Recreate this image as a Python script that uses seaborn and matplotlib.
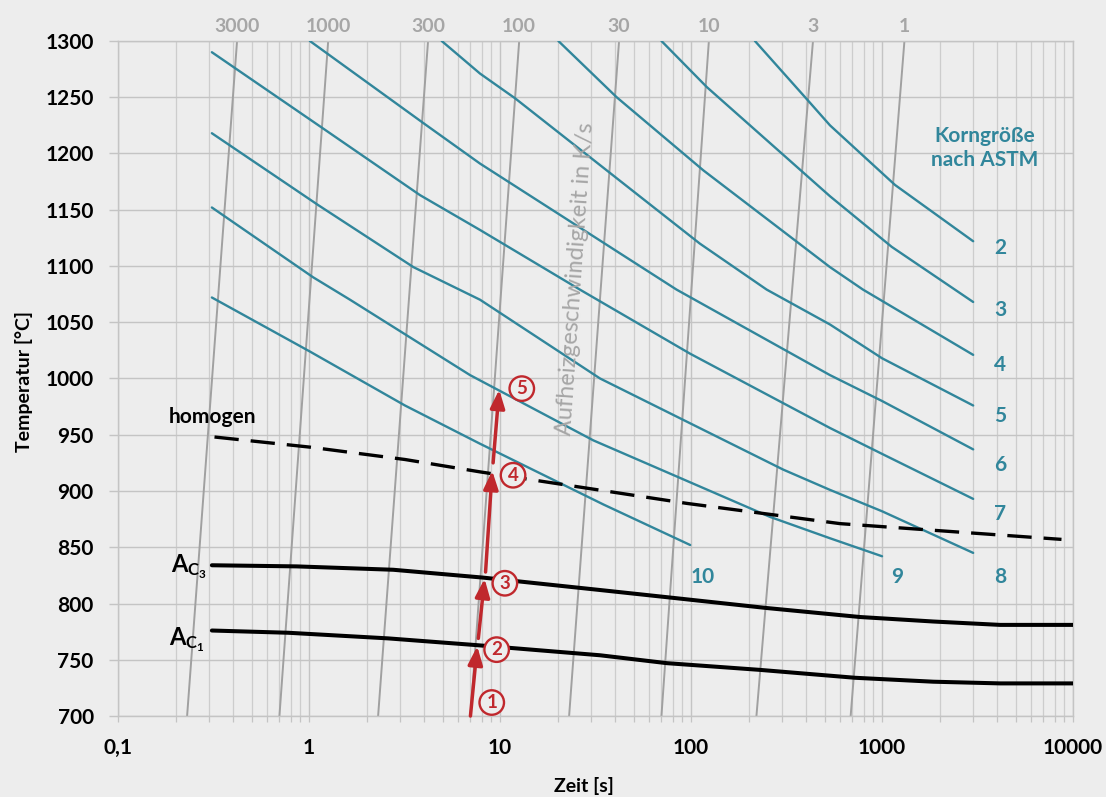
import numpy as np
import pandas as pd
import matplotlib
matplotlib.use("Agg")
import matplotlib.pyplot as plt
from matplotlib.ticker import FixedLocator, NullFormatter
import seaborn as sns

# ─── Data ────────────────────────────────────────────────────────
# heating rate lines in K/s: time [s] at 700 °C and at 1300 °C
rates = [3000, 1000, 300, 100, 30, 10, 3, 1]
rate_t_700 = [0.23, 0.70, 2.3, 7.0, 23, 70, 220, 685]
rate_t_1300 = [0.42, 1.26, 4.2, 12.6, 42, 124, 435, 1310]

# ASTM grain size curves
grain_sizes = [2, 3, 4, 5, 6, 7, 8, 9, 10]
g2_t = [216, 415, 534, 1170, 3000]
g2_T = [1300, 1246, 1225, 1172, 1122]
g3_t = [70, 121, 534, 1124, 3000]
g3_T = [1300, 1259, 1162, 1117, 1068]
g4_t = [20.2, 40.8, 116, 534, 795, 1000, 3000]
g4_T = [1300, 1250, 1185, 1099, 1079, 1069, 1021]
g5_t = [4.95, 7.86, 12, 111, 249, 534, 1000, 3000]
g5_T = [1300, 1271, 1249, 1120, 1079, 1048, 1018, 976]
g6_t = [1.01, 3.97, 7.86, 84, 534, 1000, 3000]
g6_T = [1300, 1227, 1191, 1079, 1003, 980, 937]
g7_t = [0.31, 1.19, 3.81, 7.86, 26.2, 99, 534, 1000, 3000]
g7_T = [1290, 1222, 1163, 1132, 1079, 1022, 956, 933, 893]
g8_t = [0.31, 1.12, 3.52, 7.86, 33.4, 304, 534, 1000, 3000]
g8_T = [1218, 1154, 1099, 1070, 1000, 919, 901, 882, 845]
g9_t = [0.31, 1.05, 1.64, 6.97, 30.8, 259, 534, 1000]
g9_T = [1152, 1090, 1070, 1003, 945, 877, 858, 842]
g10_t = [0.31, 1.01, 3.18, 7.86, 34.8, 99]
g10_T = [1072, 1024, 976, 942, 888, 852]

# transformation lines
ac3_t = [0.31, 0.86, 2.76, 8.18, 33.4, 80.8, 249, 767, 1857, 4150, 10000]
ac3_T = [834, 833, 830, 823, 812, 805, 796, 788, 784, 781, 781]
ac1_t = [0.31, 0.78, 2.6, 7.55, 33.4, 74.6, 230, 722, 1857, 4150, 10000]
ac1_T = [776, 774, 769, 763, 754, 747, 741, 734, 730.5, 729, 729]
homogen_t = [0.32, 1.01, 3.18, 7.86, 95, 603, 8700]
homogen_T = [948, 939, 928, 917, 889, 871, 857]

# red heating path (arrows) and the numbered steps
arrow_t0 = [7.0, 7.7, 8.4, 9.2]
arrow_T0 = [700, 769, 828, 925]
arrow_t1 = [7.6, 8.3, 9.1, 9.9]
arrow_T1 = [762, 822, 918, 990]
step_labels = ["1", "2", "3", "4", "5"]
step_t = [9.05, 9.6, 10.6, 11.7, 13.0]
step_T = [712, 759, 818, 914, 991]

x_ticks = [0.1, 1, 10, 100, 1000, 10000]
x_ticklabels = ["0,1", "1", "10", "100", "1000", "10000"]
y_ticks = list(range(700, 1301, 50))

BG = "#ededed"
GRID = "#c4c4c4"
RATE_GRAY = "#a0a0a0"
LABEL_GRAY = "#a6a6a6"
TEAL = "#31869b"
RED = "#c0282d"

# ─── Long-form tables for seaborn ───────────────────────────────
rate_df = pd.DataFrame({
    "rate": np.repeat(rates, 2),
    "t": np.ravel(np.column_stack([rate_t_700, rate_t_1300])),
    "T": np.tile([700, 1300], len(rates)),
})

grain_t = [g2_t, g3_t, g4_t, g5_t, g6_t, g7_t, g8_t, g9_t, g10_t]
grain_T = [g2_T, g3_T, g4_T, g5_T, g6_T, g7_T, g8_T, g9_T, g10_T]
grain_df = pd.concat(
    [pd.DataFrame({"grain": g, "t": t, "T": T})
     for g, t, T in zip(grain_sizes, grain_t, grain_T)],
    ignore_index=True,
)

# ─── Style ───────────────────────────────────────────────────────
sns.set_theme(style="whitegrid", rc={
    "axes.facecolor": BG,
    "figure.facecolor": BG,
    "grid.color": GRID,
})
plt.rcParams["font.family"] = ["Lato", "DejaVu Sans"]
plt.rcParams["mathtext.fontset"] = "custom"
plt.rcParams["mathtext.rm"] = "Lato"
plt.rcParams["mathtext.bf"] = "Lato:bold"

fig = plt.figure(figsize=(11.06, 7.97), dpi=100)
ax = fig.add_axes([0.1067, 0.1016, 0.8635, 0.8470])
ax.set_xscale("log")

# heating rate lines
sns.lineplot(data=rate_df, x="t", y="T", units="rate", estimator=None,
             color=RATE_GRAY, lw=1.4, ax=ax, zorder=2)
# grain size curves
sns.lineplot(data=grain_df, x="t", y="T", units="grain", estimator=None,
             color=TEAL, lw=1.7, ax=ax, zorder=3)
# Ac3 / Ac1
sns.lineplot(x=ac3_t, y=ac3_T, color="black", lw=2.9, ax=ax, zorder=4)
sns.lineplot(x=ac1_t, y=ac1_T, color="black", lw=2.9, ax=ax, zorder=4)
# homogenisation limit
ax.plot(homogen_t, homogen_T, color="black", lw=2.4,
        linestyle=(0, (7.3, 3.6)), zorder=4)

# red arrows
for t0, T0, t1, T1 in zip(arrow_t0, arrow_T0, arrow_t1, arrow_T1):
    ax.annotate("", xy=(t1, T1), xytext=(t0, T0), zorder=6,
                arrowprops=dict(arrowstyle="-|>,head_length=0.55,head_width=0.22",
                                color=RED, lw=2.5, mutation_scale=20,
                                shrinkA=0, shrinkB=0))
for lab, t, T in zip(step_labels, step_t, step_T):
    ax.text(t, T, lab, ha="center", va="center", color=RED, fontsize=13.5,
            fontweight="bold", zorder=7,
            bbox=dict(boxstyle="circle,pad=0.2", fc=BG, ec=RED, lw=1.7))

# ─── Axes ────────────────────────────────────────────────────────
ax.set_xlim(0.1, 10000)
ax.set_ylim(700, 1300)
ax.xaxis.set_major_locator(FixedLocator(x_ticks))
ax.set_xticklabels(x_ticklabels)
ax.xaxis.set_minor_locator(FixedLocator(
    [m * 10.0 ** e for e in range(-1, 4) for m in range(2, 10)]))
ax.xaxis.set_minor_formatter(NullFormatter())
ax.set_yticks(y_ticks)
ax.grid(which="major", color=GRID, lw=1.0)
ax.grid(which="minor", axis="x", color="#cdcdcd", lw=0.9)
ax.set_axisbelow(True)
for sp in ax.spines.values():
    sp.set_color(GRID)
    sp.set_linewidth(1.0)
ax.tick_params(axis="x", which="both", direction="out", length=4.5,
               color=GRID, width=0.9, bottom=True, pad=11)
ax.tick_params(axis="y", which="major", direction="out", length=6.5,
               color=GRID, width=1.0, left=True, pad=11)
for lab in ax.get_xticklabels() + ax.get_yticklabels():
    lab.set_fontsize(15)
    lab.set_fontweight("bold")
    lab.set_color("black")

ax.set_xlabel("Zeit [s]", fontsize=14, fontweight="bold", color="black")
ax.set_ylabel("Temperatur [°C]", fontsize=14, fontweight="bold", color="black")
ax.xaxis.set_label_coords(0.488, -0.09)
ax.yaxis.set_label_coords(-0.089, 0.496)

# ─── Annotations ─────────────────────────────────────────────────
for r, t_top in zip(rates, rate_t_1300):
    ax.annotate(str(r), xy=(t_top, 1300), xytext=(0, 4),
                textcoords="offset points", ha="center", va="bottom",
                fontsize=14, fontweight="bold", color=LABEL_GRAY,
                annotation_clip=False)

ax.text(24.7, 1089, "Aufheizgeschwindigkeit in K/s", rotation=86,
        ha="center", va="center", fontsize=17, color=LABEL_GRAY,
        rotation_mode="anchor")

ax.text(3460, 1205, "Korngröße\nnach ASTM", ha="center", va="center",
        fontsize=15, fontweight="bold", color=TEAL, linespacing=1.25)

grain_label_pos = {2: (4150, 1116), 3: (4150, 1061), 4: (4150, 1012),
                   5: (4150, 967), 6: (4150, 923), 7: (4150, 880),
                   8: (4150, 824), 9: (1194, 824), 10: (115.6, 824)}
for g in grain_sizes:
    t, T = grain_label_pos[g]
    ax.text(t, T, str(g), ha="center", va="center", fontsize=15,
            fontweight="bold", color=TEAL)

ax.text(0.314, 966, "homogen", ha="center", va="center", fontsize=15,
        fontweight="bold", color="black")
ax.text(0.291, 828, r"$\mathbf{A_{C_3}}$", ha="right", va="baseline",
        fontsize=17, color="black")
ax.text(0.285, 763, r"$\mathbf{A_{C_1}}$", ha="right", va="baseline",
        fontsize=17, color="black")

fig.savefig("out.png", dpi=100, facecolor=BG)
